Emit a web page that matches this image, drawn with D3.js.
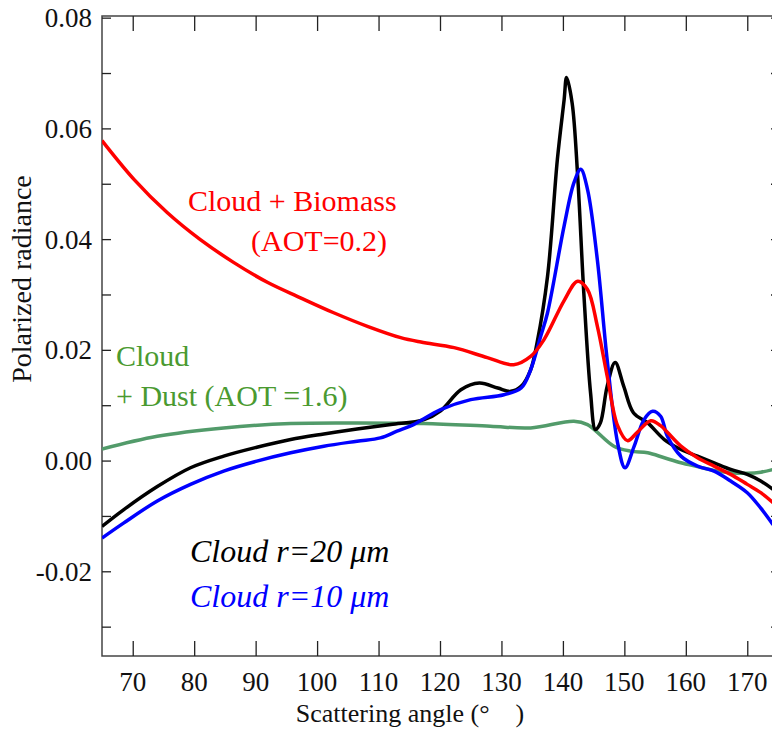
<!DOCTYPE html>
<html>
<head>
<meta charset="utf-8">
<script src="https://cdn.jsdelivr.net/npm/d3@7"></script>
<style>
  html, body { margin: 0; padding: 0; background: #fff; }
  svg { display: block; }
</style>
</head>
<body>
<svg id="chart" width="772" height="729"></svg>
<script>
// values (scattering angle in degrees, polarized radiance)
const black20Angle = [65, 68.5, 74, 79.4, 84.8, 90.2, 95.7, 101.1, 106.5, 112, 117.4, 120.1, 123.4, 126.4, 129.4, 131.5, 133.2, 134.75, 135.8, 137.5, 139.1, 140.2, 140.6, 141.5, 142.4, 143.4, 144.5, 145.3, 146.1, 147.2, 148.5, 149.9, 151.5, 153.8, 156.5, 159.2, 161.9, 164.6, 167.3, 170, 172.2, 174.2]
const black20Value = [-0.0119, -0.0089, -0.0047, -0.0013, 0.0008, 0.0024, 0.0038, 0.0048, 0.0057, 0.0065, 0.0074, 0.0090, 0.0128, 0.0140, 0.0131, 0.0125, 0.0134, 0.0164, 0.0213, 0.0333, 0.0544, 0.0652, 0.0692, 0.0646, 0.0514, 0.0303, 0.0122, 0.0056, 0.0068, 0.0134, 0.0177, 0.0134, 0.0086, 0.0068, 0.0038, 0.0020, 0.0008, -0.0004, -0.0016, -0.0025, -0.0037, -0.0052]

const blue10Angle = [65, 68.5, 74, 79.4, 84.8, 90.2, 95.7, 101.1, 106.5, 110.3, 113, 115.7, 120.1, 125, 130.4, 133.2, 134.75, 136.4, 137.5, 140.2, 141.8, 142.9, 144, 145.6, 147.2, 148.9, 150.1, 151.6, 153.2, 154.6, 155.9, 157, 159.2, 161.9, 164.6, 167.3, 170, 172.2, 174.2]
const blue10Value = [-0.0140, -0.0113, -0.0073, -0.0043, -0.0019, -0.0001, 0.0014, 0.0026, 0.0035, 0.0041, 0.0053, 0.0065, 0.0092, 0.0110, 0.0119, 0.0131, 0.0164, 0.0225, 0.0267, 0.0424, 0.0502, 0.0526, 0.0490, 0.0363, 0.0182, 0.0032, -0.0013, 0.0026, 0.0074, 0.0089, 0.0080, 0.0044, 0.0008, -0.0010, -0.0019, -0.0037, -0.0058, -0.0086, -0.0116]

const biomassAngle = [65, 70.2, 75.6, 81, 86.4, 91.9, 97.3, 102.7, 108.3, 113.6, 116.9, 122.3, 127.7, 132, 134.75, 136.9, 140.2, 142.4, 144, 145.6, 147.2, 148.9, 150.5, 152.1, 154.3, 155.9, 157, 159.2, 161.9, 164.6, 167.3, 170, 172.2, 174.2]
const biomassValue = [0.0578, 0.0508, 0.0448, 0.0399, 0.0358, 0.0322, 0.0294, 0.0267, 0.0242, 0.0222, 0.0214, 0.0204, 0.0186, 0.0173, 0.0188, 0.0218, 0.0289, 0.0324, 0.0309, 0.0243, 0.0153, 0.0063, 0.0036, 0.0051, 0.0072, 0.0063, 0.0051, 0.0026, 0.0005, -0.0010, -0.0025, -0.0043, -0.0058, -0.0076]

const dustAngle = [65, 74, 84.8, 95.7, 106.5, 117.4, 128.2, 134.75, 141.8, 144, 148.3, 151, 153.8, 156.5, 159.2, 161.9, 164.6, 167.3, 170, 172.2, 174.2]
const dustValue = [0.0021, 0.0044, 0.0059, 0.0067, 0.0068, 0.0067, 0.0062, 0.0059, 0.0071, 0.0065, 0.0026, 0.0017, 0.0014, 0.0005, -0.0004, -0.0011, -0.0018, -0.0022, -0.0023, -0.0021, -0.0016]

const xTicks = [70, 80, 90, 100, 110, 120, 130, 140, 150, 160, 170]
const yTicks = [-0.03, -0.02, -0.01, 0, 0.01, 0.02, 0.03, 0.04, 0.05, 0.06, 0.07, 0.08]
const yLabelTicks = [-0.02, 0, 0.02, 0.04, 0.06, 0.08]

// pick the first serif face that is really installed (width test against monospace)
function pickSerif() {
  const ctx = document.createElement('canvas').getContext('2d')
  const sample = 'Scattering angle 0123456789'
  const widthOf = (family) => { ctx.font = `40px ${family}`; return ctx.measureText(sample).width }
  const mono = widthOf('monospace')
  const sans = widthOf('sans-serif')
  const candidates = ['Liberation Serif', 'Tinos', 'DejaVu Serif', 'Noto Serif', 'Times New Roman', 'Times', 'FreeSerif', 'Nimbus Roman', 'Nimbus Roman No9 L', 'Noto Serif CJK SC', 'Noto Serif CJK JP']
  for (const name of candidates) {
    const a = widthOf(`"${name}", monospace`)
    const b = widthOf(`"${name}", sans-serif`)
    if (a !== mono || b !== sans) return `"${name}", serif`
  }
  return 'serif'
}
const serif = pickSerif()

const svg = d3.select('#chart')
  .attr('font-family', serif)

// plot frame (right edge falls just outside the picture)
const plotLeft = 102, plotRight = 778, plotTop = 16, plotBottom = 656

const x = d3.scaleLinear().domain([65, 175]).range([plotLeft, plotRight])
const y = d3.scaleLinear().domain([-0.0353, 0.0803]).range([plotBottom, plotTop])

// frame
svg.append('rect')
  .attr('x', plotLeft).attr('y', plotTop)
  .attr('width', plotRight - plotLeft).attr('height', plotBottom - plotTop)
  .attr('fill', 'none')
  .attr('stroke', '#444')
  .attr('stroke-width', 1.5)

// left axis: inward ticks, labels every 0.02
const leftAxis = svg.append('g')
  .attr('transform', `translate(${plotLeft},0)`)
  .call(d3.axisLeft(y).tickValues(yTicks).tickSize(-9).tickFormat(''))
leftAxis.select('.domain').remove()
leftAxis.selectAll('line').attr('stroke', '#222').attr('stroke-width', 1.3)

svg.append('g')
  .selectAll('text')
  .data(yLabelTicks)
  .join('text')
  .attr('x', 92)
  .attr('y', d => y(d))
  .attr('dy', '0.35em')
  .attr('text-anchor', 'end')
  .attr('font-family', serif)
  .attr('font-size', 27)
  .attr('fill', '#111')
  .text(d => d.toFixed(2))

// right axis ticks
const rightAxis = svg.append('g')
  .attr('transform', `translate(${plotRight},0)`)
  .call(d3.axisRight(y).tickValues(yTicks).tickSize(-7).tickFormat(''))
rightAxis.select('.domain').remove()
rightAxis.selectAll('line').attr('stroke', '#222').attr('stroke-width', 1.3)

// bottom axis
const bottomAxis = svg.append('g')
  .attr('transform', `translate(0,${plotBottom})`)
  .call(d3.axisBottom(x).tickValues(xTicks).tickSize(-15).tickFormat(''))
bottomAxis.select('.domain').remove()
bottomAxis.selectAll('line').attr('stroke', '#222').attr('stroke-width', 1.3)

svg.append('g')
  .selectAll('text')
  .data(xTicks)
  .join('text')
  .attr('x', d => x(d))
  .attr('y', 691)
  .attr('text-anchor', 'middle')
  .attr('font-family', serif)
  .attr('font-size', 27)
  .attr('fill', '#111')
  .text(d => d)

// top axis
const topAxis = svg.append('g')
  .attr('transform', `translate(0,${plotTop})`)
  .call(d3.axisTop(x).tickValues(xTicks).tickSize(-15).tickFormat(''))
topAxis.select('.domain').remove()
topAxis.selectAll('line').attr('stroke', '#222').attr('stroke-width', 1.3)

// axis titles
svg.append('text')
  .attr('x', 410)
  .attr('y', 722)
  .attr('text-anchor', 'middle')
  .attr('font-family', serif)
  .attr('font-size', 26)
  .attr('fill', '#111')
  .text('Scattering angle (°\u2002\u2002)')

svg.append('text')
  .attr('transform', 'translate(31,279) rotate(-90)')
  .attr('text-anchor', 'middle')
  .attr('font-family', serif)
  .attr('font-size', 28)
  .attr('fill', '#111')
  .text('Polarized radiance')

// curves
const line = d3.line()
  .x(d => x(d[0]))
  .y(d => y(d[1]))
  .curve(d3.curveCatmullRom.alpha(0.5))

const series = [
  { angle: dustAngle, value: dustValue, color: '#529b6a' },
  { angle: black20Angle, value: black20Value, color: '#000000' },
  { angle: blue10Angle, value: blue10Value, color: '#0000ff' },
  { angle: biomassAngle, value: biomassValue, color: '#ff0000' }
]

svg.append('defs').append('clipPath').attr('id', 'plotClip')
  .append('rect')
  .attr('x', plotLeft).attr('y', plotTop)
  .attr('width', plotRight - plotLeft).attr('height', plotBottom - plotTop)

svg.append('g')
  .attr('clip-path', 'url(#plotClip)')
  .selectAll('path')
  .data(series)
  .join('path')
  .attr('d', s => line(s.angle.map((a, i) => [a, s.value[i]])))
  .attr('fill', 'none')
  .attr('stroke', s => s.color)
  .attr('stroke-width', 3.5)
  .attr('stroke-linejoin', 'round')

// annotations
const notes = [
  { text: 'Cloud + Biomass', x: 188, y: 211, color: '#ff0000', italic: false },
  { text: '(AOT=0.2)', x: 251, y: 251, color: '#ff0000', italic: false },
  { text: 'Cloud', x: 116, y: 366, color: '#4a9a30', italic: false },
  { text: '+ Dust (AOT =1.6)', x: 116, y: 406, color: '#4a9a30', italic: false },
  { text: 'Cloud r=20 μm', x: 190, y: 562, color: '#000000', italic: true },
  { text: 'Cloud r=10 μm', x: 190, y: 607, color: '#0000ff', italic: true }
]

svg.append('g')
  .selectAll('text')
  .data(notes)
  .join('text')
  .attr('x', d => d.x)
  .attr('y', d => d.y)
  .attr('font-family', serif)
  .attr('font-size', d => d.italic ? 32 : 30)
  .attr('font-style', d => d.italic ? 'italic' : 'normal')
  .attr('fill', d => d.color)
  .text(d => d.text)
</script>
</body>
</html>
